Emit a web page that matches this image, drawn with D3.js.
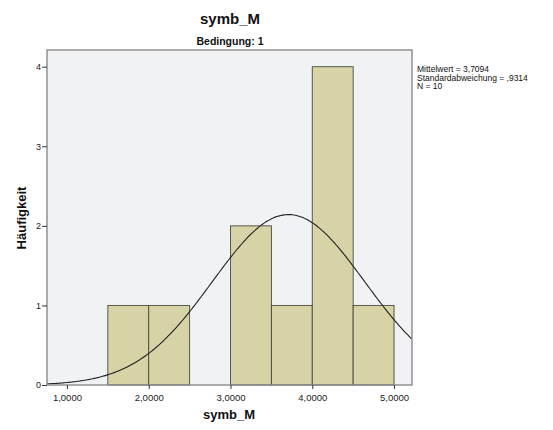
<!DOCTYPE html>
<html>
<head>
<meta charset="utf-8">
<script src="https://cdn.jsdelivr.net/npm/d3@7"></script>
<style>
  body { margin: 0; background: #fff; }
  svg { display: block; font-family: "Liberation Sans", "DejaVu Sans", sans-serif; }
</style>
</head>
<body>
<svg id="chart" width="553" height="430"></svg>
<script>
// ── DATA ─────────────────────────────────────────────────────────────────────
const binStart = [1.5, 2.0, 3.0, 3.5, 4.0, 4.5];
const binEnd   = [2.0, 2.5, 3.5, 4.0, 4.5, 5.0];
const counts   = [1, 1, 2, 1, 4, 1];
const xTicks   = [1, 2, 3, 4, 5];
const yTicks   = [0, 1, 2, 3, 4];
const mean = 3.7094, sd = 0.9314, n = 10, binW = 0.5;
const statLines = ['Mittelwert = 3,7094', 'Standardabweichung = ,9314', 'N = 10'];

// ── SETUP ────────────────────────────────────────────────────────────────────
const svg = d3.select('#chart');
const L = 47, R = 412, T = 50, B = 385;

const x = d3.scaleLinear().domain([1 - 20 / 82, 5 + 18 / 82]).range([L, R]);
const y = d3.scaleLinear().domain([0, 4.21]).range([B, T]);

// plot background
svg.append('rect')
  .attr('x', L).attr('y', T).attr('width', R - L).attr('height', B - T)
  .attr('fill', '#f1f2f4');

const clip = svg.append('defs').append('clipPath').attr('id', 'plot-clip');
clip.append('rect').attr('x', L).attr('y', T).attr('width', R - L).attr('height', B - T);

// bars
svg.append('g').selectAll('rect')
  .data(counts)
  .join('rect')
  .attr('x', (d, i) => x(binStart[i]))
  .attr('width', (d, i) => x(binEnd[i]) - x(binStart[i]))
  .attr('y', d => y(d))
  .attr('height', d => B - y(d))
  .attr('fill', '#d6d3a6')
  .attr('stroke', '#4a4a40')
  .attr('stroke-width', 0.9);

// normal curve
const pdf = v => Math.exp(-0.5 * ((v - mean) / sd) ** 2) / (sd * Math.sqrt(2 * Math.PI));
const curvePts = d3.range(x.domain()[0], x.domain()[1] + 0.001, 0.02).map(v => [v, n * binW * pdf(v)]);
svg.append('path')
  .datum(curvePts)
  .attr('clip-path', 'url(#plot-clip)')
  .attr('fill', 'none')
  .attr('stroke', '#222')
  .attr('stroke-width', 1.1)
  .attr('d', d3.line().x(d => x(d[0])).y(d => y(d[1])).curve(d3.curveBasis));

// frame
svg.append('rect')
  .attr('x', L).attr('y', T).attr('width', R - L).attr('height', B - T)
  .attr('fill', 'none').attr('stroke', '#8a8a8a').attr('stroke-width', 1.4);

// axes
const xAxis = svg.append('g').attr('transform', `translate(0,${B})`)
  .call(d3.axisBottom(x).tickValues(xTicks).tickSize(4).tickSizeOuter(0)
    .tickFormat(d => d3.format('.4f')(d).replace('.', ',')));
xAxis.select('.domain').remove();
xAxis.selectAll('line').attr('stroke', '#333');
xAxis.selectAll('text').attr('font-size', 9.5).attr('fill', '#222').attr('dy', '0.95em');

const yAxis = svg.append('g').attr('transform', `translate(${L},0)`)
  .call(d3.axisLeft(y).tickValues(yTicks).tickSize(5).tickSizeOuter(0).tickFormat(d3.format('d')));
yAxis.select('.domain').remove();
yAxis.selectAll('line').attr('stroke', '#333');
yAxis.selectAll('text').attr('font-size', 9).attr('fill', '#222').attr('x', -6);

// titles
svg.append('text').attr('x', 230).attr('y', 24).attr('text-anchor', 'middle')
  .attr('font-size', 15).attr('font-weight', 'bold').attr('fill', '#111').text('symb_M');
svg.append('text').attr('x', 230).attr('y', 45).attr('text-anchor', 'middle')
  .attr('font-size', 10.5).attr('font-weight', 'bold').attr('fill', '#111').text('Bedingung: 1');
svg.append('text').attr('x', 229).attr('y', 419).attr('text-anchor', 'middle')
  .attr('font-size', 13).attr('font-weight', 'bold').attr('fill', '#111').text('symb_M');
svg.append('text').attr('transform', 'translate(26,218) rotate(-90)').attr('text-anchor', 'middle')
  .attr('font-size', 13).attr('font-weight', 'bold').attr('fill', '#111').text('Häufigkeit');

// stats legend
svg.append('g').selectAll('text')
  .data(statLines)
  .join('text')
  .attr('x', 417)
  .attr('y', (d, i) => 72 + i * 8.5)
  .attr('font-size', 8.5)
  .attr('fill', '#111')
  .text(d => d);
</script>
</body>
</html>
